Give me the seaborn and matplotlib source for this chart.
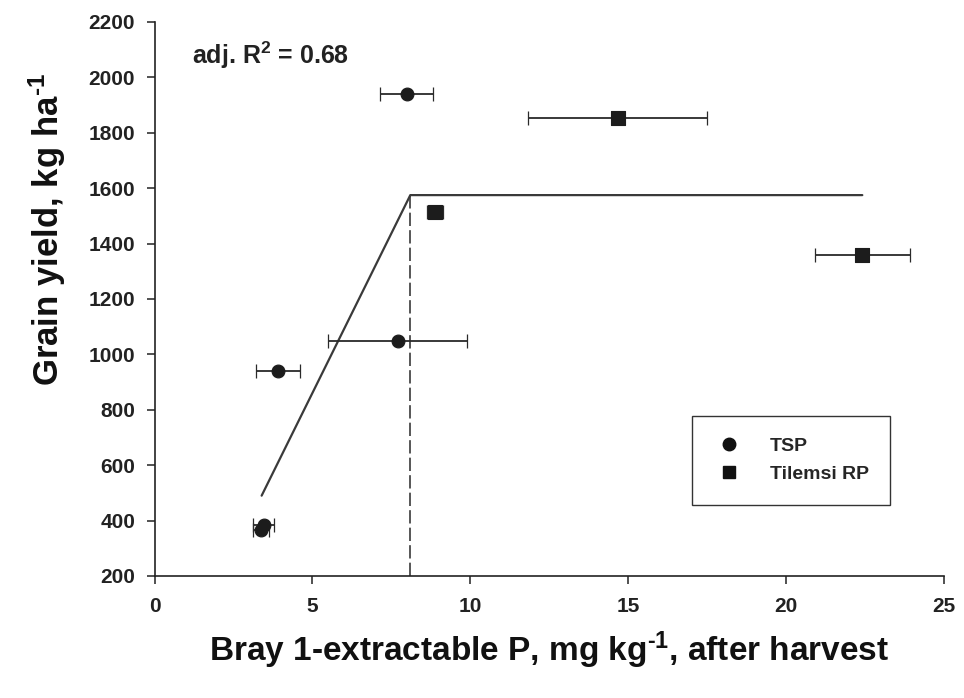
import matplotlib
matplotlib.use("Agg")
import matplotlib.pyplot as plt
from matplotlib.lines import Line2D
import seaborn as sns
import pandas as pd

# Bray 1 P after harvest (mg/kg), its standard error, and grain yield (kg/ha)
tsp_p = [7.70, 3.92, 3.45, 3.38, 7.98]
tsp_p_err = [2.21, 0.70, 0.32, 0.25, 0.83]
tsp_yield = [1050, 940, 385, 365, 1940]

rp_p = [14.67, 8.88, 22.42]
rp_p_err = [2.83, 0.25, 1.50]
rp_yield = [1855, 1515, 1358]

# Linear-plateau fit
fit_x = [3.39, 8.10, 22.42]
fit_y = [490, 1575, 1575]
critical_p = 8.10
plateau = 1575
adj_r2 = 0.68

y_ticks = list(range(200, 2201, 200))
x_ticks = [0, 5, 10, 15, 20, 25]

tsp = pd.DataFrame({"P": tsp_p, "err": tsp_p_err, "yield": tsp_yield})
rp = pd.DataFrame({"P": rp_p, "err": rp_p_err, "yield": rp_yield})

sns.set_theme(style="ticks")
plt.rcParams["font.family"] = ["Liberation Sans", "DejaVu Sans"]
plt.rcParams["font.weight"] = "bold"
plt.rcParams["mathtext.fontset"] = "custom"
plt.rcParams["mathtext.rm"] = "Liberation Sans:bold"
plt.rcParams["mathtext.bf"] = "Liberation Sans:bold"
plt.rcParams["mathtext.it"] = "Liberation Sans:bold:italic"

fig = plt.figure(figsize=(9.64, 6.98), dpi=100)
ax = fig.add_axes([0.1604, 0.1748, 0.8186, 0.7937])

line_col = "#2a2a2a"
mark_col = "#1c1c1c"

# horizontal error bars
for d in (tsp, rp):
    ax.errorbar(d["P"], d["yield"], xerr=d["err"], fmt="none",
                ecolor=line_col, elinewidth=1.3, capsize=5.2, capthick=0.9,
                zorder=2)

# fitted linear-plateau line and critical P value
ax.plot(fit_x, fit_y, color="#3a3a3a", lw=1.6, zorder=1)
ax.plot([critical_p, critical_p], [200, plateau], color="#3a3a3a",
        lw=1.2, ls=(0, (8, 2.5)), zorder=1)

sns.scatterplot(data=tsp, x="P", y="yield", marker="o", s=85,
                color=mark_col, edgecolor=mark_col, linewidth=0.8,
                ax=ax, zorder=3, legend=False)
sns.scatterplot(data=rp, x="P", y="yield", marker="s", s=90,
                color=mark_col, edgecolor=mark_col, linewidth=0.8,
                ax=ax, zorder=3, legend=False)

ax.set_xlim(0, 25)
ax.set_ylim(200, 2200)
ax.set_xticks(x_ticks)
ax.set_yticks(y_ticks)
ax.tick_params(axis="both", direction="out", length=6, width=1.1,
               labelsize=15, colors="#222222", pad=8)
ax.tick_params(axis="x", pad=9)
for lab in ax.get_xticklabels() + ax.get_yticklabels():
    lab.set_fontweight("bold")

for s in ["top", "right"]:
    ax.spines[s].set_visible(False)
for s in ["left", "bottom"]:
    ax.spines[s].set_color("#222222")
    ax.spines[s].set_linewidth(1.2)

ax.set_xlabel(r"Bray 1-extractable P, mg kg$^{\text{-1}}$, after harvest",
              fontsize=24, fontweight="bold", color="#111111")
ax.xaxis.set_label_coords(0.5, -0.097)
ax.set_ylabel(r"Grain yield, kg ha$^{\text{-1}}$",
              fontsize=25, fontweight="bold", color="#111111")
ax.yaxis.set_label_coords(-0.11, 0.626)

ax.text(1.18, 2080, r"adj. R$^{\text{2}}$ = " + f"{adj_r2:.2f}",
        fontsize=18, fontweight="bold", color="#222222", va="center")

# legend
handles = [
    Line2D([], [], ls="none", marker="o", color="#111111", markersize=9),
    Line2D([], [], ls="none", marker="s", color="#111111", markersize=8),
]
leg = ax.legend(handles, ["TSP", "Tilemsi RP"], loc="upper left",
                bbox_to_anchor=(0.681, 0.289), frameon=True, fancybox=False,
                edgecolor="#333333", framealpha=1, borderpad=1.1,
                handletextpad=1.3, labelspacing=0.55, borderaxespad=0,
                handlelength=1.6,
                prop={"weight": "bold", "size": 14})
leg.get_frame().set_linewidth(1.0)

fig.savefig("out.png", dpi=100)
